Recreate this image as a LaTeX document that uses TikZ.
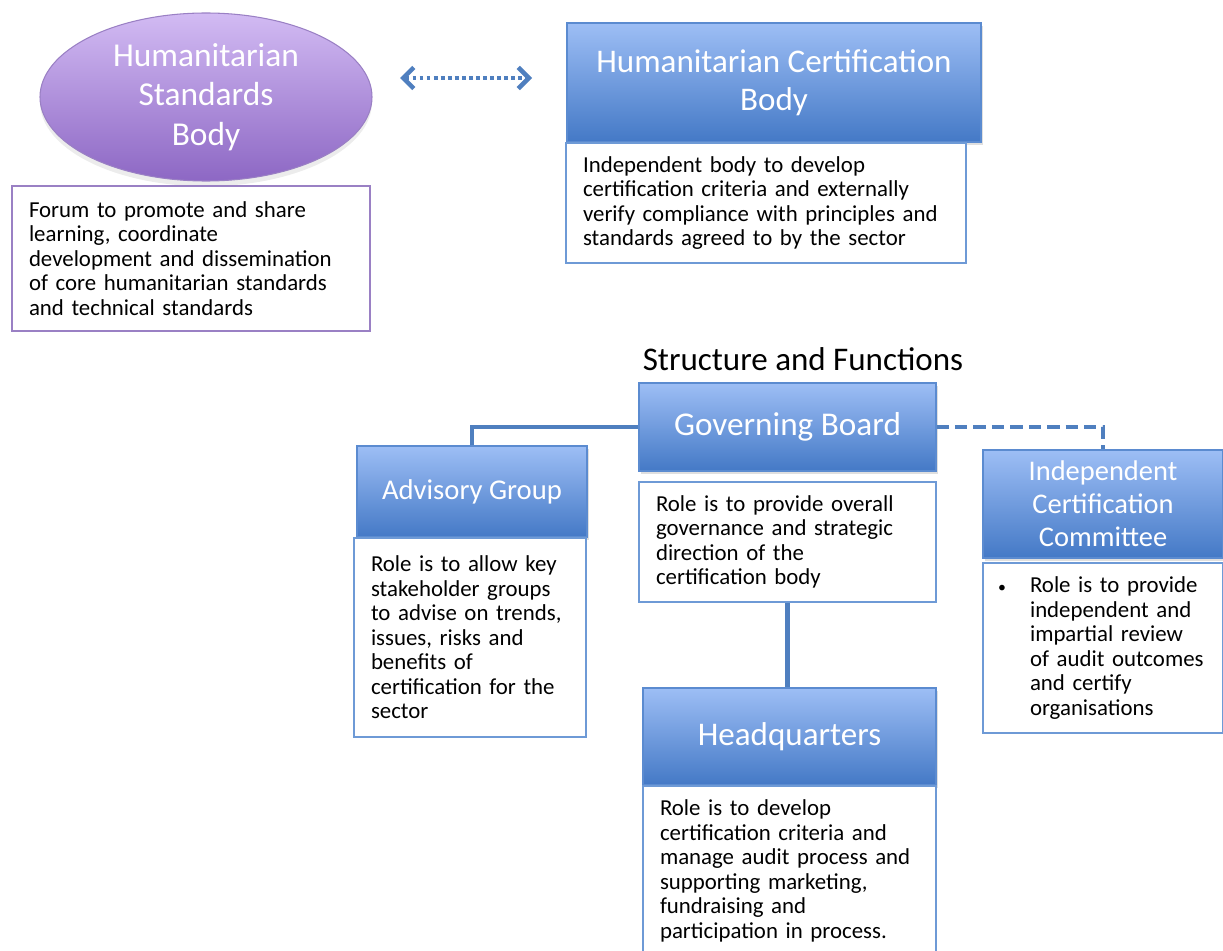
\documentclass[tikz,border=0pt]{standalone}
\usepackage{fontspec}
\setmainfont{Carlito}
\usetikzlibrary{shapes.geometric,arrows.meta,shadows}

\definecolor{hdtop}{HTML}{9DBEF5}
\definecolor{hdbot}{HTML}{4479C6}
\definecolor{hdline}{HTML}{5B8BD0}
\definecolor{boxline}{HTML}{6E9AD6}
\definecolor{linkblue}{HTML}{4F7FBF}
\definecolor{ovtop}{HTML}{D2BBF3}
\definecolor{ovbot}{HTML}{8D67C4}
\definecolor{ovline}{HTML}{9A80C4}

\newcommand{\notesize}{\fontsize{13}{13.94}\selectfont}
\tikzset{barb/.tip={Straight Barb[length=6pt,width=12pt,line width=2.6pt]}}

\begin{document}
\begin{tikzpicture}[
  head/.style={rectangle, draw=hdline, line width=0.6pt, top color=hdtop, bottom color=hdbot,
    text=white, align=center, drop shadow={opacity=0.25, shadow xshift=1pt, shadow yshift=-1.5pt}},
  note/.style={rectangle, draw=boxline, line width=1pt, fill=white, align=left,
    inner xsep=0.34cm, inner ysep=0pt, font=\notesize},
  link/.style={draw=linkblue, line width=2.8pt},
]
\useasboundingbox (0,0) rectangle (24.46,-19);
\clip (0,0) rectangle (24.46,-19);

% standards body and certification body
\node [ellipse, minimum width=6.64cm, minimum height=2.72cm, top color=ovtop, bottom color=ovbot,
  draw=ovline, line width=0.6pt, text=white, align=center, font=\fontsize{19}{22.4}\selectfont,
  drop shadow={opacity=0.15, shadow xshift=0pt, shadow yshift=-3pt}] (hsb) at (4.12,-1.94)
  {Humanitarian\\Standards\\Body};
\node [note, draw=ovline, minimum height=2.9cm, text width=6.48cm] (hsbtxt) at (3.82,-5.17)
  {Forum to promote and share\\learning, coordinate\\development and dissemination\\of core humanitarian standards\\and technical standards};

\node [head, minimum width=8.28cm, minimum height=2.38cm, font=\fontsize{18.8}{21.6}\selectfont]
  (hcb) at (15.48,-1.65) {Humanitarian Certification\\Body};
\node [note, minimum height=2.4cm, text width=7.32cm] (hcbtxt) at (15.32,-4.06)
  {Independent body to develop\\certification criteria  and externally\\verify compliance with principles and\\standards agreed to by the sector};

\coordinate (dl) at (8.0,-1.56);
\coordinate (dr) at (10.64,-1.56);
\draw [linkblue, line width=2.2pt, dash pattern=on 2.2pt off 1.8pt, barb-barb] (dl) -- (dr);

% structure and functions
\node [font=\fontsize{18.8}{21}\selectfont] (title) at (16.06,-7.18) {Structure and Functions};

\node [head, minimum width=5.94cm, minimum height=1.76cm, font=\fontsize{18.9}{21}\selectfont]
  (gb) at (15.75,-8.54) {Governing Board};
\node [note, minimum height=2.4cm, text width=5.26cm] (gbtxt) at (15.75,-10.84)
  {Role is to provide overall\\governance and strategic\\direction of the\\certification body};

\node [head, minimum width=4.6cm, minimum height=1.82cm, font=\fontsize{16.3}{18}\selectfont]
  (ag) at (9.44,-9.83) {Advisory Group};
\node [note, minimum height=3.98cm, text width=3.96cm] (agtxt) at (9.4,-12.75)
  {Role is to allow  key\\stakeholder groups\\to advise on trends,\\issues, risks and\\benefits of\\certification for the\\sector};

\node [head, minimum width=4.8cm, minimum height=2.16cm, font=\fontsize{16.2}{18.8}\selectfont]
  (icc) at (22.06,-10.08) {Independent\\Certification\\Committee};
\node [note, minimum height=3.4cm, text width=4.12cm] (icctxt) at (22.06,-12.96)
  {\makebox[0.6cm][l]{\hspace{-0.04cm}\small\textbullet}\parbox[t]{3.52cm}{\raggedright Role is to  provide\\independent and\\impartial  review\\of audit outcomes\\and certify\\organisations}};

\node [head, minimum width=5.86cm, minimum height=1.94cm, font=\fontsize{18.8}{21}\selectfont]
  (hq) at (15.79,-14.73) {Headquarters};
\node [note, minimum height=3.4cm, text width=5.18cm] (hqtxt) at (15.79,-17.42)
  {Role is to develop\\certification criteria and\\manage audit process and\\supporting marketing,\\fundraising and\\participation in process.};

% links between the bodies
\draw [link] (gb.west) -| (ag.north);
\draw [link, dash pattern=on 7pt off 3.5pt] (gb.east) -| (icc.north);
\draw [link] (gbtxt.south) -- (gbtxt.south |- hq.north);
\end{tikzpicture}
\end{document}
